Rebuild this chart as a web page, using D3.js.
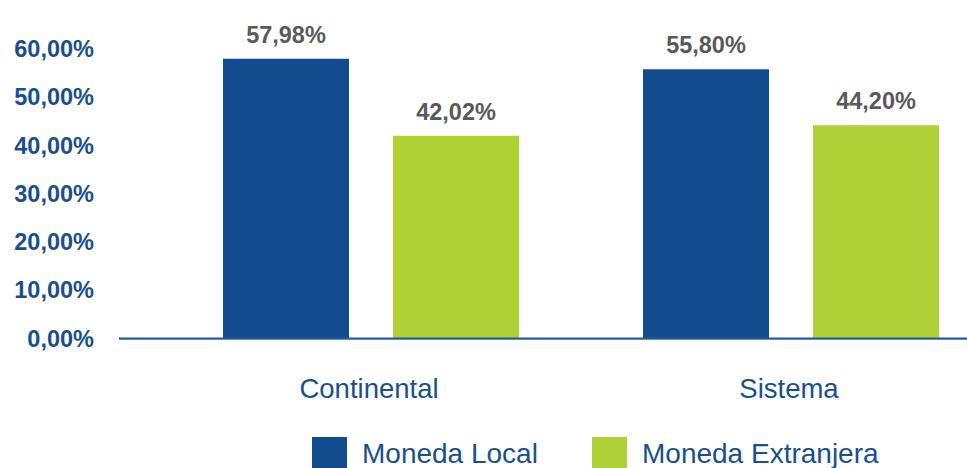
<!DOCTYPE html>
<html>
<head>
<meta charset="utf-8">
<script src="https://cdn.jsdelivr.net/npm/d3@7/dist/d3.min.js"></script>
<style>
  html, body { margin: 0; padding: 0; background: #fff; }
  svg { display: block; font-family: Arial, "Liberation Sans", sans-serif; }
</style>
</head>
<body>
<div class="graph"></div>
<script>
var categories = ['Continental', 'Sistema'],
    series = ['Moneda Local', 'Moneda Extranjera'],
    monedaLocal = [57.98, 55.80],
    monedaExtranjera = [42.02, 44.20],
    yTicks = [0, 10, 20, 30, 40, 50, 60];

var colors = ['#124c8e', '#b0d135'],
    width = 967,
    height = 468;

var fmt = function(v) { return d3.format('.2f')(v).replace('.', ',') + '%'; };

var svg = d3.select('.graph')
            .append('svg')
            .attr('width', width)
            .attr('height', height);

var y = d3.scaleLinear().domain([0, 60]).range([338.5, 49]);

// groups, one per category
var x0 = d3.scaleBand().domain(categories).range([161, 1001]);
var x1 = d3.scaleBand().domain(series).range([62, 358]).paddingInner(0.259);

// y axis labels
var yAxis = d3.axisLeft(y)
              .tickValues(yTicks)
              .tickSize(0)
              .tickPadding(0)
              .tickFormat(fmt);

svg.append('g')
   .attr('class', 'y axis')
   .attr('transform', 'translate(94,0)')
   .call(yAxis)
   .call(function(g) { g.select('.domain').remove(); })
   .selectAll('text')
   .attr('fill', '#1a4f8f')
   .style('font-size', '23.5px')
   .style('font-weight', 'bold');

var rows = categories.map(function(c, i) {
  return { cat: c, values: [monedaLocal[i], monedaExtranjera[i]] };
});

var group = svg.selectAll('.group')
               .data(rows)
               .enter()
               .append('g')
               .attr('class', 'group')
               .attr('transform', function(d) { return 'translate(' + x0(d.cat) + ',0)'; });

group.selectAll('rect')
     .data(function(d) { return d.values.map(function(v, i) { return { s: series[i], v: v, i: i }; }); })
     .enter()
     .append('rect')
     .attr('x', function(d) { return x1(d.s); })
     .attr('width', x1.bandwidth())
     .attr('y', function(d) { return y(d.v); })
     .attr('height', function(d) { return y(0) - y(d.v); })
     .attr('fill', function(d) { return colors[d.i]; });

group.selectAll('.value')
     .data(function(d) { return d.values.map(function(v, i) { return { s: series[i], v: v }; }); })
     .enter()
     .append('text')
     .attr('class', 'value')
     .attr('x', function(d) { return x1(d.s) + x1.bandwidth() / 2; })
     .attr('y', function(d) { return y(d.v) - 16; })
     .attr('text-anchor', 'middle')
     .attr('fill', '#595959')
     .style('font-size', '23.5px')
     .style('font-weight', 'bold')
     .text(function(d) { return fmt(d.v); });

// category labels
group.append('text')
     .attr('x', 208)
     .attr('y', 398)
     .attr('text-anchor', 'middle')
     .attr('fill', '#1a4f8f')
     .style('font-size', '27.5px')
     .text(function(d) { return d.cat; });

// baseline
svg.append('line')
   .attr('x1', 119)
   .attr('x2', width)
   .attr('y1', y(0) + 1)
   .attr('y2', y(0) + 1)
   .attr('stroke', '#a9bfd9')
   .attr('stroke-width', 1);

svg.append('line')
   .attr('x1', 119)
   .attr('x2', width)
   .attr('y1', y(0))
   .attr('y2', y(0))
   .attr('stroke', '#1f5a9c')
   .attr('stroke-width', 2);

// legend
var legendX = [312, 592];

var legend = svg.selectAll('.legend')
                .data(series)
                .enter()
                .append('g')
                .attr('class', 'legend')
                .attr('transform', function(d, i) { return 'translate(' + legendX[i] + ',437)'; });

legend.append('rect')
      .attr('width', 35)
      .attr('height', 35)
      .attr('fill', function(d, i) { return colors[i]; });

legend.append('text')
      .attr('x', 50)
      .attr('y', 26)
      .attr('fill', '#1a4f8f')
      .style('font-size', '28px')
      .text(function(d) { return d; });
</script>
</body>
</html>
